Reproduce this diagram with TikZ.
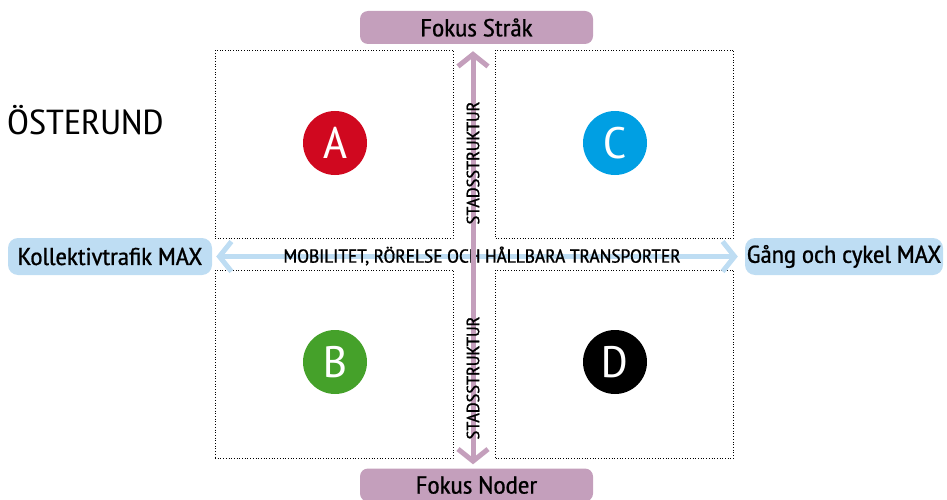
\documentclass[tikz,border=0pt]{standalone}
\usepackage{fontspec}
\setmainfont{PT Sans Narrow}[FakeStretch=1.15]
\newfontfamily\halvfet{PT Sans Narrow}[FakeStretch=1.15,FakeBold=0.8]
\usetikzlibrary{arrows.meta}
\definecolor{lila}{HTML}{C49FBC}
\definecolor{ljusbla}{HTML}{BEDDF3}
\definecolor{rod}{HTML}{D0081F}
\definecolor{bla}{HTML}{009FE3}
\definecolor{gron}{HTML}{45A12A}
\tikzset{
  kvadrant/.style={draw,dotted,line width=0.7pt,minimum width=238pt,minimum height=188pt,inner sep=0pt},
  punkt/.style={circle,fill=#1,text=white,minimum size=64pt,inner sep=0pt,font=\fontsize{44}{44}\selectfont},
  fokus/.style={fill=lila,rounded corners=8pt,minimum width=233pt,minimum height=33pt,inner sep=0pt,font=\halvfet\fontsize{24.5}{26}\selectfont},
  maxbox/.style={fill=ljusbla,rounded corners=10pt,minimum height=37pt,inner sep=0pt,font=\halvfet\fontsize{24.3}{26}\selectfont},
  axel/.style={font=\halvfet\fontsize{18.8}{20}\selectfont,inner sep=0pt}
}
\begin{document}
\begin{tikzpicture}[x=1pt,y=-1pt]
\useasboundingbox (0,0) rectangle (947,500);
% quadrants
\node[kvadrant] (qA) at (334,144) {};
\node[kvadrant] (qC) at (614.5,144) {};
\node[kvadrant] (qB) at (334,364) {};
\node[kvadrant] (qD) at (614.5,364) {};
\node[punkt=rod] (A) at (335,143) {A};
\node[punkt=bla] (C) at (615,143) {C};
\node[punkt=gron] (B) at (335,362) {B};
\node[punkt=black] (D) at (615,362) {D};
% labels at the ends
\node[fokus] (strak) at (476.5,27.5) {Fokus Stråk};
\node[fokus] (noder) at (476.5,485) {Fokus Noder};
\node[maxbox,minimum width=204pt] (koll) at (110,256.5) {Kollektivtrafik MAX};
\node[maxbox,minimum width=198pt] (gang) at (844,256.5) {Gång och cykel MAX};
\node[anchor=west,font=\fontsize{34.7}{36}\selectfont,inner sep=0pt] (titel) at (7,120) {ÖSTERUND};
% axes
\draw[ljusbla,line width=5pt,{Straight Barb[length=12pt,width=30pt]}-{Straight Barb[length=12pt,width=30pt]},shorten <=4pt,shorten >=7pt]
  (koll) -- (gang);
\node[axel] (mobil) at (482,256) {MOBILITET, RÖRELSE OCH HÅLLBARA TRANSPORTER};
\draw[lila,line width=5pt,{Straight Barb[length=12pt,width=30pt]}-{Straight Barb[length=12pt,width=30pt]},shorten <=4pt,shorten >=7pt]
  (noder.north -| 473,0) -- (strak.south -| 473,0);
\node[axel,rotate=90,font=\halvfet\fontsize{17.7}{19}\selectfont] (stad1) at (473,163) {STADSSTRUKTUR};
\node[axel,rotate=90,font=\halvfet\fontsize{17.7}{19}\selectfont] (stad2) at (473,378) {STADSSTRUKTUR};
\end{tikzpicture}
\end{document}
